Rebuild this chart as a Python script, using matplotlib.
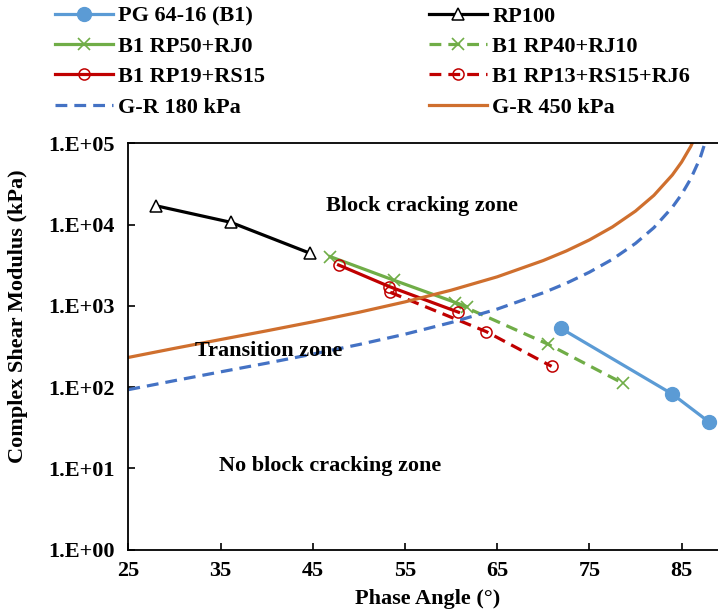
import matplotlib
matplotlib.use("Agg")
import matplotlib.pyplot as plt

plt.rcParams["font.family"] = ["Liberation Serif", "DejaVu Serif"]
plt.rcParams["font.weight"] = "bold"
plt.rcParams["font.size"] = 16

# values (phase angle in deg, |G*| in kPa)
pg_angle = [71.9, 84.0, 88.0]
pg_modulus = [530, 82, 37]
rp100_angle = [28.0, 36.1, 44.7]
rp100_modulus = [17100, 10700, 4450]
rp50_angle = [46.9, 53.8, 61.7]
rp50_modulus = [4040, 2070, 980]
rp40_angle = [60.4, 70.5, 78.6]
rp40_modulus = [1100, 338, 112]
rp19_angle = [47.8, 53.3, 60.8]
rp19_modulus = [3190, 1730, 836]
rp13_angle = [53.4, 63.8, 70.9]
rp13_modulus = [1470, 483, 180]

gr_angle = [25, 30, 35, 40, 45, 50, 55, 60, 65, 70, 72.5, 75, 77.5, 80, 82, 84, 85, 86, 87, 88]
gr180_modulus = [93, 120, 154, 197, 255, 334, 448, 624, 913, 1450, 1900, 2600, 3750,
                 5880, 9200, 16400, 23600, 36900, 65600, 148000]
gr450_modulus = [232, 300, 385, 493, 636, 834, 1120, 1560, 2280, 3620, 4750, 6490, 9380,
                 14700, 23000, 41000, 59000, 92200, 164000, 369000]

x_ticks = [25, 35, 45, 55, 65, 75, 85]
y_ticks = [1, 10, 100, 1000, 10000, 100000]
y_tick_labels = ["1.E+00", "1.E+01", "1.E+02", "1.E+03", "1.E+04", "1.E+05"]

zone_labels = ["Block cracking zone", "Transition zone", "No block cracking zone"]
zone_angle = [46.45, 32.2, 34.8]
zone_modulus = [17100, 275, 10.6]

fig = plt.figure(figsize=(7.18, 6.15), dpi=100)
ax = fig.add_axes([0.1788, 0.1065, 0.8347, 0.6602])

lw = 2.3
pg, = ax.plot(pg_angle, pg_modulus, color="#5B9BD5", lw=lw, marker="o", ms=10,
              mfc="#5B9BD5", mec="#5B9BD5", label="PG 64-16 (B1)")
rp100, = ax.plot(rp100_angle, rp100_modulus, color="black", lw=lw, marker="^", ms=9,
                 mfc="white", mec="black", mew=1.1, label="RP100")
rp50, = ax.plot(rp50_angle, rp50_modulus, color="#70AD47", lw=lw, marker="x", ms=8,
                mew=1.2, label="B1 RP50+RJ0")
rp40, = ax.plot(rp40_angle, rp40_modulus, color="#70AD47", lw=lw, marker="x", ms=8,
                mew=1.2, dashes=(3.7, 2.2), label="B1 RP40+RJ10")
rp19, = ax.plot(rp19_angle, rp19_modulus, color="#C00000", lw=lw, marker="o", ms=8,
                mfc="none", mec="#C00000", mew=1.1, label="B1 RP19+RS15")
rp13, = ax.plot(rp13_angle, rp13_modulus, color="#C00000", lw=lw, marker="o", ms=8,
                mfc="none", mec="#C00000", mew=1.1, dashes=(3.7, 2.2),
                label="B1 RP13+RS15+RJ6")
gr180, = ax.plot(gr_angle, gr180_modulus, color="#4472C4", lw=lw, dashes=(3.7, 2.2),
                 label="G-R 180 kPa")
gr450, = ax.plot(gr_angle, gr450_modulus, color="#CF6F2E", lw=lw, label="G-R 450 kPa")

ax.set_yscale("log")
ax.set_xlim(25, 90)
ax.set_ylim(1, 100000)
ax.set_xticks(x_ticks)
ax.set_xticklabels([str(t) for t in x_ticks])
ax.set_yticks(y_ticks)
ax.set_yticklabels(y_tick_labels)
ax.minorticks_off()
ax.tick_params(axis="both", direction="in", length=5, width=1.2)
ax.tick_params(axis="y", pad=10)
ax.tick_params(axis="x", pad=8)
for side in ["left", "bottom", "top"]:
    ax.spines[side].set_linewidth(1.3)
ax.spines["right"].set_visible(False)

for label, a, g in zip(zone_labels, zone_angle, zone_modulus):
    ax.text(a, g, label, ha="left", va="center", fontsize=16, fontweight="bold")

fig.text(18 / 718, 1 - 316 / 615, "Complex Shear Modulus (kPa)", rotation=90,
         ha="center", va="center", fontsize=16, fontweight="bold")
fig.text(428 / 718, 1 - 599 / 615, "Phase Angle (°)", ha="center", va="center",
         fontsize=16, fontweight="bold")

legend_style = dict(loc="upper left", frameon=False, borderpad=0, borderaxespad=0,
                    handlelength=2.6, handletextpad=0.25, labelspacing=0.44,
                    prop={"family": "Liberation Serif", "weight": "bold", "size": 16})
fig.legend(handles=[pg, rp50, rp19, gr180], bbox_to_anchor=(55 / 718, 1 - 6 / 615),
           **legend_style)
fig.legend(handles=[rp100, rp40, rp13, gr450], bbox_to_anchor=(429 / 718, 1 - 6 / 615),
           **legend_style)

fig.savefig("out.png", dpi=100)
